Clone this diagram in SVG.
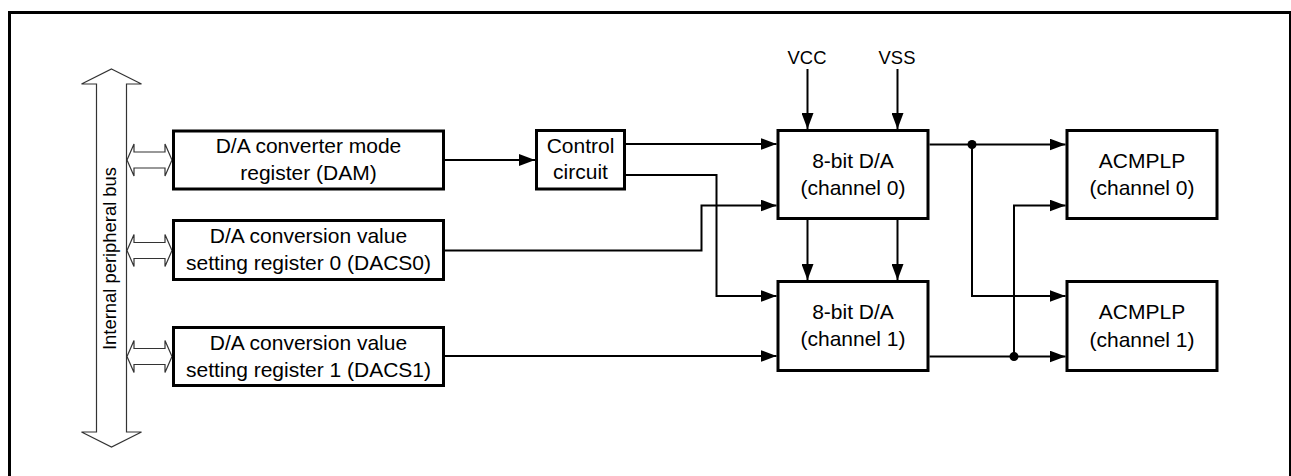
<svg xmlns="http://www.w3.org/2000/svg" width="1291" height="476" viewBox="0 0 1291 476">
<style>
.box{fill:#fff;stroke:#000;stroke-width:3}
.t{font-family:"Liberation Sans",Arial,sans-serif;font-size:21px;fill:#000;text-anchor:middle}
.s{font-family:"Liberation Sans",Arial,sans-serif;font-size:18.4px;fill:#000;text-anchor:middle}
.w{fill:none;stroke:#000;stroke-width:2}
.bus{fill:#fff;stroke:#333;stroke-width:1.2}
</style>
<defs>
<marker id="ah" markerUnits="userSpaceOnUse" markerWidth="16" markerHeight="12" refX="16" refY="6" orient="auto">
<path d="M0,0 L16,6 L0,12 z" fill="#000"/>
</marker>
</defs>
<rect x="9.5" y="12.5" width="1281" height="500" fill="none" stroke="#000" stroke-width="3"/>
<g id="bus">
<polygon class="bus" points="111.5,69 141.5,84 126.5,84 126.5,432 141.5,432 111.5,447 81.5,432 96.5,432 96.5,84 81.5,84"/>
<text class="s" transform="translate(116,258.5) rotate(-90)">Internal peripheral bus</text>
<polygon class="bus" points="127,160 134,144 134,152 165,152 165,144 172,160 165,176 165,168 134,168 134,176"/>
<polygon class="bus" points="127,250.5 134,234.5 134,242.5 165,242.5 165,234.5 172,250.5 165,266.5 165,258.5 134,258.5 134,266.5"/>
<polygon class="bus" points="127,356.5 134,340.5 134,348.5 165,348.5 165,340.5 172,356.5 165,372.5 165,364.5 134,364.5 134,372.5"/>
</g>
<g id="dam">
<rect class="box" x="173.5" y="131" width="270" height="58"/>
<text class="t" x="308.5" y="153">D/A converter mode</text>
<text class="t" x="308.5" y="180">register (DAM)</text>
</g>
<g id="dacs0">
<rect class="box" x="173.5" y="220.5" width="270" height="59"/>
<text class="t" x="308.5" y="243">D/A conversion value</text>
<text class="t" x="308.5" y="270">setting register 0 (DACS0)</text>
</g>
<g id="dacs1">
<rect class="box" x="173.5" y="327.5" width="270" height="58"/>
<text class="t" x="308.5" y="349.5">D/A conversion value</text>
<text class="t" x="308.5" y="376.5">setting register 1 (DACS1)</text>
</g>
<g id="control">
<rect class="box" x="536.5" y="130.5" width="88" height="58.5"/>
<text class="t" x="580.5" y="153">Control</text>
<text class="t" x="580.5" y="179">circuit</text>
</g>
<g id="da0">
<rect class="box" x="778" y="130.5" width="150" height="88"/>
<text class="t" x="853" y="167.5">8-bit D/A</text>
<text class="t" x="853" y="194.5">(channel 0)</text>
</g>
<g id="da1">
<rect class="box" x="778" y="281.5" width="150" height="89"/>
<text class="t" x="853" y="319">8-bit D/A</text>
<text class="t" x="853" y="346">(channel 1)</text>
</g>
<g id="cmp0">
<rect class="box" x="1067" y="130.5" width="150" height="88"/>
<text class="t" x="1142" y="167.5">ACMPLP</text>
<text class="t" x="1142" y="195">(channel 0)</text>
</g>
<g id="cmp1">
<rect class="box" x="1067" y="281.5" width="150" height="89"/>
<text class="t" x="1142" y="319">ACMPLP</text>
<text class="t" x="1142" y="346.5">(channel 1)</text>
</g>
<g id="vcc"><text class="s" x="807" y="64">VCC</text></g>
<g id="vss"><text class="s" x="897" y="64">VSS</text></g>
<g id="connectors">
<path class="w" d="M445,160 H535" marker-end="url(#ah)"/>
<path class="w" d="M626,144 H776.5" marker-end="url(#ah)"/>
<path class="w" d="M626,175 H716.5 V296 H776.5" marker-end="url(#ah)"/>
<path class="w" d="M445,250.5 H701.5 V205.5 H776.5" marker-end="url(#ah)"/>
<path class="w" d="M445,356 H776.5" marker-end="url(#ah)"/>
<path class="w" d="M807.5,69 V129" marker-end="url(#ah)"/>
<path class="w" d="M897.5,69 V129" marker-end="url(#ah)"/>
<path class="w" d="M807.5,220 V280" marker-end="url(#ah)"/>
<path class="w" d="M897.5,220 V280" marker-end="url(#ah)"/>
<path class="w" d="M929.5,144.5 H1065.5" marker-end="url(#ah)"/>
<path class="w" d="M972,144.5 V296 H1065.5" marker-end="url(#ah)"/>
<path class="w" d="M929.5,356.5 H1065.5" marker-end="url(#ah)"/>
<path class="w" d="M1014,356.5 V205.5 H1065.5" marker-end="url(#ah)"/>
<circle cx="972" cy="144.5" r="4.5" fill="#000"/>
<circle cx="1014" cy="356.5" r="4.5" fill="#000"/>
</g>
</svg>
